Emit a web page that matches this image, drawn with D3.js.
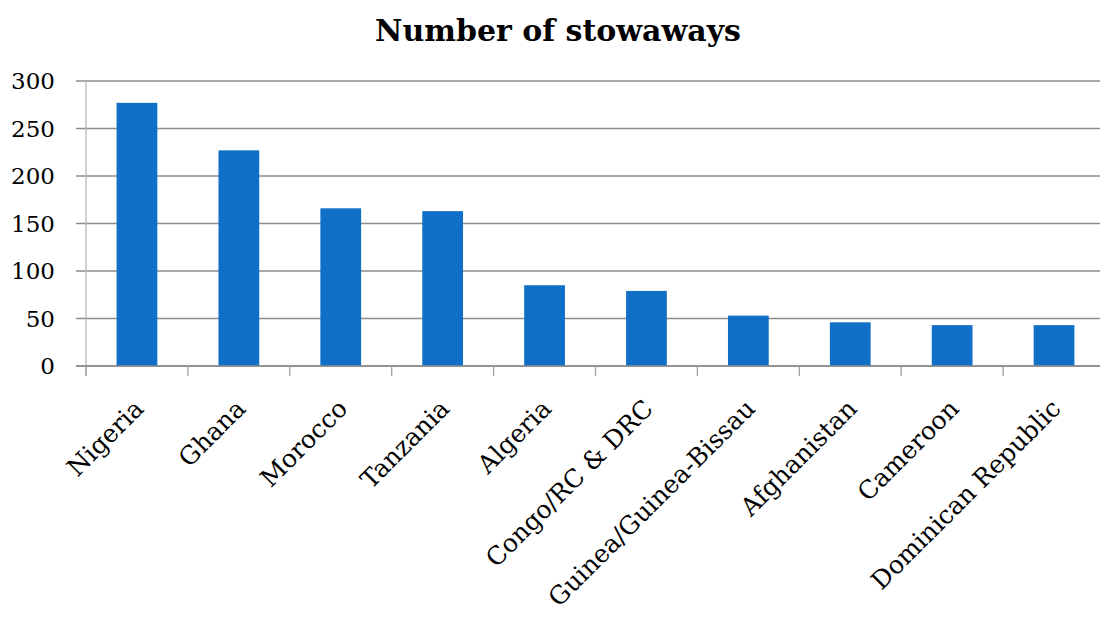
<!DOCTYPE html>
<html>
<head>
<meta charset="utf-8">
<script src="https://cdn.jsdelivr.net/npm/d3@7"></script>
<style>
  body { margin: 0; background: #fff; }
  text { font-family: Constantia, "DejaVu Serif", "Liberation Serif", serif; fill: #000; }
</style>
</head>
<body>
<div id="chart"></div>
<script>
const countries = ['Nigeria', 'Ghana', 'Morocco', 'Tanzania', 'Algeria', 'Congo/RC & DRC',
    'Guinea/Guinea-Bissau', 'Afghanistan', 'Cameroon', 'Dominican Republic'];
const stowaways = [277, 227, 166, 163, 85, 79, 53, 46, 43, 43];
const yTicks = [0, 50, 100, 150, 200, 250, 300];

const W = 1100, H = 619;
const MARGIN = { TOP: 81, BOTTOM: 253, LEFT: 86, RIGHT: -5 };
const WIDTH = W - MARGIN.LEFT - MARGIN.RIGHT;
const HEIGHT = H - MARGIN.TOP - MARGIN.BOTTOM;

const root = d3.select('#chart')
    .append('svg')
    .attr('width', W)
    .attr('height', H);

root.append('text')
    .attr('x', 558)
    .attr('y', 41)
    .attr('text-anchor', 'middle')
    .attr('textLength', 366)
    .attr('lengthAdjust', 'spacingAndGlyphs')
    .style('font-size', '30px')
    .style('font-weight', 'bold')
    .text('Number of stowaways');

const svg = root.append('g')
    .attr('transform', `translate(${MARGIN.LEFT}, ${MARGIN.TOP})`);

const x = d3.scaleBand()
    .domain(countries)
    .range([0, WIDTH])
    .paddingInner(0.6)
    .paddingOuter(0.3);

const y = d3.scaleLinear()
    .domain([0, 300])
    .range([HEIGHT, 0]);

// gridlines (with outward ticks on the left)
svg.selectAll('line.grid')
    .data(yTicks)
    .enter()
    .append('line')
    .attr('class', 'grid')
    .attr('x1', -10)
    .attr('x2', WIDTH)
    .attr('y1', d => y(d))
    .attr('y2', d => y(d))
    .attr('stroke', '#8c8c8c')
    .attr('stroke-width', 1.3);

// y axis labels
svg.selectAll('text.ylab')
    .data(yTicks)
    .enter()
    .append('text')
    .attr('class', 'ylab')
    .attr('x', -31)
    .attr('y', d => y(d))
    .attr('dy', '0.35em')
    .attr('text-anchor', 'end')
    .style('font-size', '23px')
    .text(d => d);

// y axis line
svg.append('line')
    .attr('x1', 0).attr('x2', 0)
    .attr('y1', 0).attr('y2', HEIGHT + 10)
    .attr('stroke', '#b8b8b8')
    .attr('stroke-width', 1.3);

// bars
svg.selectAll('rect.bar')
    .data(countries)
    .enter()
    .append('rect')
    .attr('class', 'bar')
    .attr('x', d => x(d))
    .attr('width', x.bandwidth())
    .attr('y', (d, i) => y(stowaways[i]))
    .attr('height', (d, i) => HEIGHT - y(stowaways[i]))
    .attr('fill', '#106fc6');

// baseline
svg.append('line')
    .attr('x1', -10).attr('x2', WIDTH)
    .attr('y1', HEIGHT).attr('y2', HEIGHT)
    .attr('stroke', '#8c8c8c')
    .attr('stroke-width', 1.3);

// category ticks between bands
const step = x.step();
svg.selectAll('line.xtick')
    .data(countries)
    .enter()
    .append('line')
    .attr('class', 'xtick')
    .attr('x1', (d, i) => i * step)
    .attr('x2', (d, i) => i * step)
    .attr('y1', HEIGHT)
    .attr('y2', HEIGHT + 10)
    .attr('stroke', '#a0a0a0')
    .attr('stroke-width', 1.3);

// rotated category labels
svg.selectAll('text.xlab')
    .data(countries)
    .enter()
    .append('text')
    .attr('class', 'xlab')
    .attr('transform', d => `translate(${x(d) + x.bandwidth() / 2 + 2}, ${HEIGHT + 38}) rotate(-45)`)
    .attr('text-anchor', 'end')
    .attr('dy', '0.35em')
    .style('font-size', '25px')
    .text(d => d);
</script>
</body>
</html>
